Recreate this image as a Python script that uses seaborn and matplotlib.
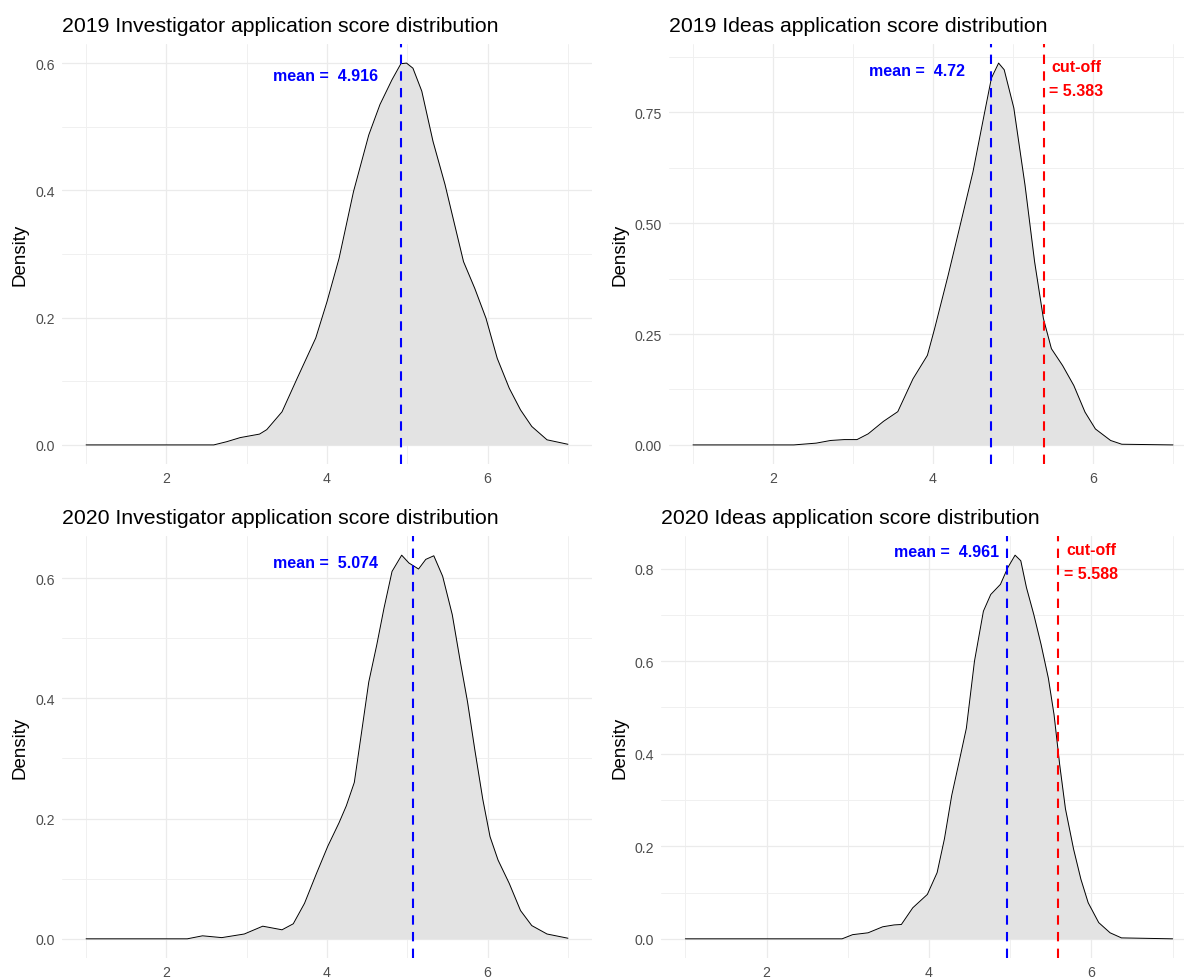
import matplotlib
matplotlib.use("Agg")
import matplotlib.pyplot as plt
import seaborn as sns
import pandas as pd

# density curves (score, density)
inv19_x = [1.0, 2.0, 2.59, 2.75, 2.92, 3.16, 3.25, 3.44, 3.63, 3.86, 4.0, 4.15, 4.33, 4.52, 4.66, 4.81,
           4.92, 4.99, 5.07, 5.18, 5.32, 5.47, 5.58, 5.70, 5.84, 5.98, 6.12, 6.27, 6.41, 6.55, 6.74, 7.0]
inv19_y = [0, 0, 0, 0.005, 0.0115, 0.017, 0.024, 0.052, 0.105, 0.168, 0.225, 0.293, 0.398, 0.487, 0.535, 0.574,
           0.599, 0.600, 0.592, 0.556, 0.477, 0.409, 0.351, 0.288, 0.246, 0.199, 0.136, 0.089, 0.055, 0.029, 0.008, 0.001]

ideas19_x = [1.0, 2.26, 2.54, 2.72, 2.89, 3.05, 3.19, 3.38, 3.56, 3.75, 3.93, 4.02, 4.19, 4.33, 4.50, 4.64,
             4.73, 4.82, 4.89, 5.01, 5.15, 5.27, 5.38, 5.48, 5.62, 5.76, 5.90, 6.03, 6.22, 6.36, 7.0]
ideas19_y = [0, 0, 0.004, 0.010, 0.012, 0.012, 0.025, 0.053, 0.075, 0.149, 0.202, 0.262, 0.383, 0.488, 0.616, 0.745,
             0.827, 0.861, 0.846, 0.760, 0.586, 0.413, 0.285, 0.217, 0.179, 0.134, 0.074, 0.036, 0.010, 0.0015, 0]

inv20_x = [1.0, 2.26, 2.45, 2.69, 2.97, 3.2, 3.44, 3.58, 3.72, 3.87, 4.01, 4.15, 4.24, 4.34, 4.43, 4.52, 4.62,
           4.71, 4.81, 4.93, 5.02, 5.14, 5.23, 5.33, 5.44, 5.56, 5.66, 5.75, 5.84, 5.94, 6.03, 6.13, 6.27,
           6.41, 6.55, 6.74, 7.0]
inv20_y = [0, 0, 0.005, 0.002, 0.008, 0.021, 0.015, 0.025, 0.059, 0.109, 0.154, 0.193, 0.221, 0.260, 0.343, 0.427, 0.489,
           0.550, 0.611, 0.638, 0.625, 0.615, 0.631, 0.637, 0.603, 0.539, 0.461, 0.394, 0.315, 0.232, 0.170, 0.131, 0.092,
           0.047, 0.022, 0.008, 0.001]

ideas20_x = [1.0, 2.93, 3.06, 3.25, 3.43, 3.57, 3.66, 3.80, 3.98, 4.10, 4.19, 4.28, 4.37, 4.46, 4.56, 4.67, 4.76,
             4.88, 4.97, 5.06, 5.13, 5.20, 5.29, 5.38, 5.47, 5.54, 5.61, 5.68, 5.78, 5.87, 5.96, 6.09, 6.23,
             6.37, 7.0]
ideas20_y = [0, 0, 0.009, 0.013, 0.026, 0.030, 0.031, 0.067, 0.096, 0.143, 0.216, 0.310, 0.382, 0.455, 0.600, 0.708, 0.744,
             0.766, 0.802, 0.829, 0.817, 0.759, 0.701, 0.636, 0.563, 0.484, 0.375, 0.281, 0.194, 0.129, 0.078, 0.035, 0.013,
             0.002, 0]

titles = ["2019 Investigator application score distribution", "2019 Ideas application score distribution",
          "2020 Investigator application score distribution", "2020 Ideas application score distribution"]
means = [4.916, 4.72, 5.074, 4.961]
cutoffs = [None, 5.383, None, 5.588]

# label anchors (x, y) in data units
mean_pos = [(4.64, 0.580), (4.40, 0.844), (4.64, 0.626), (4.86, 0.838)]
cut_pos = [None, (5.79, 0.827), None, (6.0, 0.816)]
y_ticks = [[0, 0.2, 0.4, 0.6], [0, 0.25, 0.5, 0.75], [0, 0.2, 0.4, 0.6], [0, 0.2, 0.4, 0.6, 0.8]]
y_fmt = ["{:.1f}", "{:.2f}", "{:.1f}", "{:.1f}"]

curves = [(inv19_x, inv19_y), (ideas19_x, ideas19_y), (inv20_x, inv20_y), (ideas20_x, ideas20_y)]

sns.set_theme(style="white")
plt.rcParams["font.family"] = ["Liberation Sans", "DejaVu Sans"]

W, H = 1184, 979
fig = plt.figure(figsize=(W / 100, H / 100), dpi=100)

# panel boxes in pixels: left, top, right, bottom
boxes = [(62, 45, 592, 465), (669, 45, 1197, 465), (62, 537, 592, 959), (661, 537, 1197, 959)]
ylab_px = [29, 629, 29, 629]
dash = (0, (4.5, 3.5))

for i, (cx, cy) in enumerate(curves):
    l, t, r, b = boxes[i]
    ax = fig.add_axes([l / W, 1 - b / H, (r - l) / W, (b - t) / H])
    df = pd.DataFrame({"score": cx, "density": cy})
    ax.fill_between(df["score"], 0, df["density"], color="#E3E3E3", linewidth=0, zorder=2)
    sns.lineplot(data=df, x="score", y="density", ax=ax, color="black", linewidth=0.7, zorder=3)

    ax.axvline(means[i], color="blue", linewidth=1.5, linestyle=dash, zorder=4)
    mx, my = mean_pos[i]
    ax.text(mx, my, "mean =  " + str(means[i]), color="blue", fontsize=11.5, fontweight="bold",
            ha="right", va="center", zorder=5)
    if cutoffs[i] is not None:
        ax.axvline(cutoffs[i], color="red", linewidth=1.5, linestyle=dash, zorder=4)
        px, py = cut_pos[i]
        ax.text(px, py, "cut-off\n= " + str(cutoffs[i]), color="red", fontsize=11.5, fontweight="bold",
                ha="center", va="center", linespacing=1.75, zorder=5)

    ax.set_xticks([2, 4, 6])
    ax.set_xticks([1, 3, 5, 7], minor=True)
    yt = y_ticks[i]
    step = yt[1] - yt[0]
    ax.set_yticks(yt)
    ax.set_yticklabels([y_fmt[i].format(v) for v in yt])
    ax.set_yticks([v + step / 2 for v in yt], minor=True)

    # ggplot-style 5% expansion of the data range
    xmin, xmax = min(cx), max(cx)
    ymax = max(cy)
    ax.set_xlim(xmin - 0.05 * (xmax - xmin), xmax + 0.05 * (xmax - xmin))
    ax.set_ylim(-0.05 * ymax, 1.05 * ymax)

    ax.grid(which="major", color="#EBEBEB", linewidth=0.9, zorder=0)
    ax.grid(which="minor", color="#F0F0F0", linewidth=0.7, zorder=0)
    ax.set_axisbelow(True)
    for s in ax.spines.values():
        s.set_visible(False)
    ax.tick_params(which="both", length=0, labelsize=10.2, labelcolor="#4D4D4D", pad=5)

    ax.set_xlabel("")
    ax.set_ylabel("Density", fontsize=13.5, color="black")
    ax.yaxis.set_label_coords((ylab_px[i] - l) / (r - l), 0.5)
    ax.set_title(titles[i], loc="left", fontsize=15.3, color="black", pad=9)

fig.savefig("out.png", dpi=100, facecolor="white")
